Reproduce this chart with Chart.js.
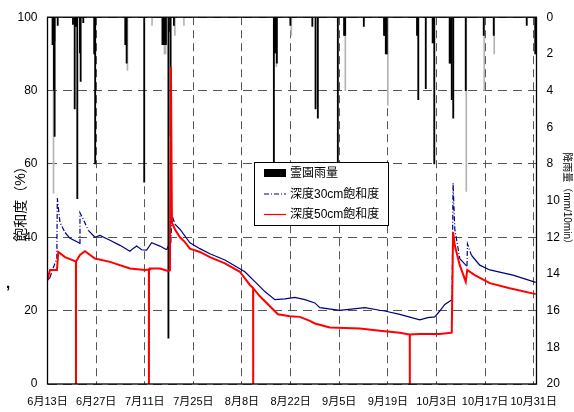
<!DOCTYPE html>
<html>
<head>
<meta charset="utf-8">
<script src="https://cdn.jsdelivr.net/npm/chart.js@4.4.0/dist/chart.umd.min.js"></script>
<style>
  html, body { margin: 0; padding: 0; background: #fff; }
</style>
</head>
<body>
<canvas id="c" width="574" height="412"></canvas>
<script>
// 霊園の降雨量と土壌飽和度（深度30cm / 50cm）
// x軸は 6月13日 からの経過日数で持つ

const tickDays = [0, 14, 28, 42, 56, 70, 84, 98, 112, 126, 140];
const dateLabels = ["6月13日", "6月27日", "7月11日", "7月25日", "8月8日", "8月22日",
  "9月5日", "9月19日", "10月3日", "10月17日", "10月31日"];

// 降雨量 [日, mm/10min]
const rainDark = [
  [1.45, 1.5], [1.75, 1.5], [1.87, 4.0], [2.05, 6.5], [2.94, 0.45],
  [7.34, 0.4], [7.83, 5.0], [8.1, 0.5], [8.3, 0.5], [8.58, 9.9], [9.35, 1.95], [9.55, 3.5], [10.3, 0.3],
  [13.45, 2.0], [13.73, 8.0],
  [22.4, 1.5], [22.6, 1.5], [22.79, 2.5],
  [27.85, 9.0],
  [33.1, 1.5], [33.4, 1.5], [33.7, 1.5], [34.1, 1.5], [34.82, 17.5], [34.96, 0.8], [35.45, 6.5], [36.4, 0.45],
  [65.18, 8.0], [65.4, 1.95], [65.61, 1.95], [66.04, 2.5],
  [69.93, 0.45],
  [76.26, 0.5], [77.18, 5.0], [77.84, 5.5],
  [83.6, 7.9], [85.4, 1.0], [85.7, 1.0],
  [91.08, 0.5],
  [96.9, 1.0], [97.2, 1.0], [97.41, 2.0], [97.7, 2.0],
  [106.4, 1.0], [106.76, 4.5],
  [108.92, 3.9],
  [110.9, 1.4], [111.2, 1.4], [111.37, 8.0],
  [115.8, 2.5], [116.1, 2.5], [116.4, 4.5], [116.83, 5.5],
  [120.43, 4.0],
  [125.61, 1.0],
  [128.49, 1.0],
  [137.99, 0.45],
  [140.43, 2.0]
];
const rainLight = [
  [1.73, 9.6], [2.2, 1.3], [23.02, 2.9], [30.1, 0.45], [33.67, 2.0], [34.0, 2.0], [36.69, 1.0], [39.28, 0.45],
  [65.9, 2.7], [70.2, 1.0], [85.76, 4.0], [97.99, 4.8], [120.58, 9.5], [125.75, 4.0], [128.63, 2.0]
];

// 飽和度 [日, %]
const sat30 = [
  [0.06, 28.3], [0.72, 29.0], [1.21, 30.6], [2.16, 32.9], [2.68, 34.0], [2.82, 50.7], [3.6, 44.0],
  [5.04, 41.3], [6.47, 39.7], [9.06, 38.5], [9.3, 38.3], [9.35, 46.7], [10.3, 44.9], [11.74, 41.9],
  [13.67, 40.0], [15.1, 40.5], [17.99, 39.2], [20.86, 37.8], [23.74, 36.2], [24.6, 36.9], [25.67, 37.6],
  [27.1, 36.6], [28.55, 36.5], [29.99, 38.5], [32.37, 37.6], [34.3, 36.6], [35.05, 38.2], [35.5, 38.4],
  [35.83, 46.0], [36.69, 43.6], [38.13, 42.2], [41.0, 38.5], [43.88, 36.9], [46.76, 35.5], [51.08, 33.8],
  [56.83, 30.6], [59.71, 27.9], [62.59, 25.2], [65.47, 23.0], [68.35, 23.2], [71.22, 23.6], [74.1, 23.0],
  [76.98, 22.1], [78.42, 20.8], [84.17, 20.1], [91.37, 20.8], [95.68, 20.1], [97.12, 19.9], [101.44, 19.0],
  [107.19, 17.5], [109.5, 18.1], [111.5, 18.3], [112.95, 19.9], [114.39, 21.7], [116.49, 23.0],
  [116.78, 54.8], [117.27, 42.3], [118.71, 34.2], [120.43, 32.4], [120.78, 32.2], [120.92, 38.2],
  [122.07, 35.1], [124.46, 32.4], [127.34, 31.1], [134.04, 29.7], [140.58, 27.7]
];
const sat50 = [
  [0.06, 28.5], [0.29, 29.5], [0.72, 31.1], [2.73, 31.1], [3.11, 36.0], [5.04, 34.6], [7.91, 33.5],
  [8.18, 33.4], [8.2, 0], [8.22, 33.4], [9.35, 35.2], [10.79, 36.2], [13.67, 34.2], [17.99, 33.3],
  [23.74, 31.5], [28.06, 31.1], [29.19, 31.2], [29.21, 0], [29.23, 31.3], [29.5, 31.5], [32.37, 31.5],
  [34.68, 30.8], [35.25, 31.0], [35.54, 86.5], [35.83, 44.0], [36.69, 42.2], [38.13, 40.0], [39.57, 38.7],
  [41.0, 36.9], [43.88, 36.0], [46.76, 34.6], [51.08, 32.9], [55.4, 30.6], [58.27, 27.0], [59.2, 26.2],
  [59.22, 0], [59.24, 26.1], [61.15, 23.9], [64.03, 21.2], [66.33, 19.0], [69.78, 18.5], [72.66, 18.3],
  [75.54, 17.2], [76.98, 16.5], [81.29, 15.4], [89.93, 15.1], [95.68, 14.5], [101.44, 14.0],
  [104.3, 13.5], [104.32, 0], [104.34, 13.5], [107.19, 13.6], [112.95, 13.6], [116.4, 14.0],
  [116.78, 41.4], [117.27, 37.8], [118.71, 32.4], [120.43, 27.9], [120.86, 31.1], [123.02, 29.7],
  [127.34, 27.5], [133.09, 26.1], [140.58, 24.5]
];

const NUM_FONT = "'Liberation Sans', Arial, sans-serif";
const JP_FONT = "'Liberation Sans', 'Noto Sans CJK JP', sans-serif";
const DASH_DOT = [5, 2, 1, 2];

const toXY = arr => arr.map(p => ({ x: p[0], y: p[1] }));

// 外枠
const frame = {
  id: "frame",
  afterDraw(chart) {
    const { ctx, chartArea: a } = chart;
    ctx.save();
    ctx.setLineDash([]);
    ctx.strokeStyle = "#000";
    ctx.lineWidth = 1.3;
    ctx.strokeRect(a.left, a.top, a.right - a.left, a.bottom - a.top);
    // 左端の小さな記号
    ctx.fillStyle = "#000";
    ctx.font = "bold 15px " + NUM_FONT;
    ctx.textBaseline = "middle";
    ctx.fillText(",", 6, 284);
    ctx.restore();
  }
};

// グラフ内の凡例ボックス（雨量 → 30cm → 50cm の順）
const boxLegend = {
  id: "boxLegend",
  afterDraw(chart) {
    const ctx = chart.ctx;
    const items = chart.data.datasets.filter(d => d.label).sort((a, b) => a.legendRank - b.legendRank);
    const x = 254, y = 162, w = 134, h = 63;
    ctx.save();
    ctx.fillStyle = "#fff";
    ctx.fillRect(x, y, w, h);
    ctx.strokeStyle = "#000";
    ctx.lineWidth = 1;
    ctx.setLineDash([]);
    ctx.strokeRect(x + 0.5, y + 0.5, w, h);
    ctx.font = "12px " + JP_FONT;
    ctx.textBaseline = "middle";
    items.forEach((d, i) => {
      const cy = y + 11 + i * 20.5;
      if (d.type === "bar") {
        ctx.fillStyle = d.backgroundColor;
        ctx.fillRect(x + 10, cy - 4, 22, 8);
      } else {
        ctx.strokeStyle = d.borderColor;
        ctx.lineWidth = d.legendWidth;
        ctx.setLineDash(d.legendDash);
        ctx.beginPath();
        ctx.moveTo(x + 10, cy + 0.5);
        ctx.lineTo(x + 32, cy + 0.5);
        ctx.stroke();
        ctx.setLineDash([]);
      }
      ctx.fillStyle = "#000";
      ctx.fillText(d.label, x + 36, cy + 1);
    });
    ctx.restore();
  }
};

new Chart(document.getElementById("c"), {
  type: "line",
  data: {
    datasets: [
      {
        type: "line", label: "深度30cm飽和度", data: sat30, yAxisID: "y",
        borderColor: "#000080", borderWidth: 1.2, pointRadius: 0, tension: 0, order: 1,
        legendRank: 1, legendDash: DASH_DOT, legendWidth: 1.2,
        segment: {
          borderDash: c => Math.abs((c.p1.parsed.y - c.p0.parsed.y) / (c.p1.parsed.x - c.p0.parsed.x)) > 1.5 ? DASH_DOT : undefined
        }
      },
      {
        type: "line", label: "深度50cm飽和度", data: sat50, yAxisID: "y",
        borderColor: "#ff0000", borderWidth: 2, pointRadius: 0, tension: 0, order: 0,
        legendRank: 2, legendDash: [], legendWidth: 1.2
      },
      {
        type: "bar", label: "霊園雨量", data: toXY(rainDark), yAxisID: "yRain",
        backgroundColor: "#000", barThickness: 1.2, grouped: false, order: 3, legendRank: 0
      },
      {
        type: "bar", label: "", data: toXY(rainLight), yAxisID: "yRain",
        backgroundColor: "#b4b4b4", barThickness: 1, grouped: false, order: 4
      }
    ]
  },
  options: {
    responsive: false,
    animation: false,
    layout: { padding: { top: 12, left: 0, right: 0, bottom: 0 } },
    plugins: { legend: { display: false }, tooltip: { enabled: false } },
    scales: {
      x: {
        type: "linear", min: 0, max: 140.8, offset: false,
        afterBuildTicks: s => { s.ticks = tickDays.map(v => ({ value: v })); },
        afterFit: s => { s.height = 28; },
        ticks: {
          callback: v => dateLabels[tickDays.indexOf(v)],
          autoSkip: false, maxRotation: 0, padding: 11,
          color: "#000", font: { family: JP_FONT, size: 11 }
        },
        grid: { color: "#555", lineWidth: 1, drawTicks: false, offset: false },
        border: { display: false, dash: [8, 5] }
      },
      y: {
        position: "left", min: 0, max: 100,
        afterFit: s => { s.width = 47.5; },
        ticks: { stepSize: 20, padding: 10, color: "#000", font: { family: NUM_FONT, size: 12 } },
        grid: { color: "#555", lineWidth: 1, drawTicks: false },
        border: { display: false, dash: [9, 6] },
        title: {
          display: true, text: "飽和度（%）", color: "#000",
          font: { family: JP_FONT, size: 14 }, padding: { top: 13, bottom: 0 }
        }
      },
      yRain: {
        position: "right", min: 0, max: 20, reverse: true,
        afterFit: s => { s.width = 37.5; },
        ticks: { stepSize: 2, padding: 10, color: "#000", font: { family: NUM_FONT, size: 12 } },
        grid: { drawOnChartArea: false, drawTicks: false },
        border: { display: false },
        title: {
          display: true, text: "降雨量（mm/10min）", color: "#000",
          font: { family: JP_FONT, size: 10 }, padding: { top: 1, bottom: 0 }
        }
      }
    }
  },
  plugins: [frame, boxLegend]
});
</script>
</body>
</html>
